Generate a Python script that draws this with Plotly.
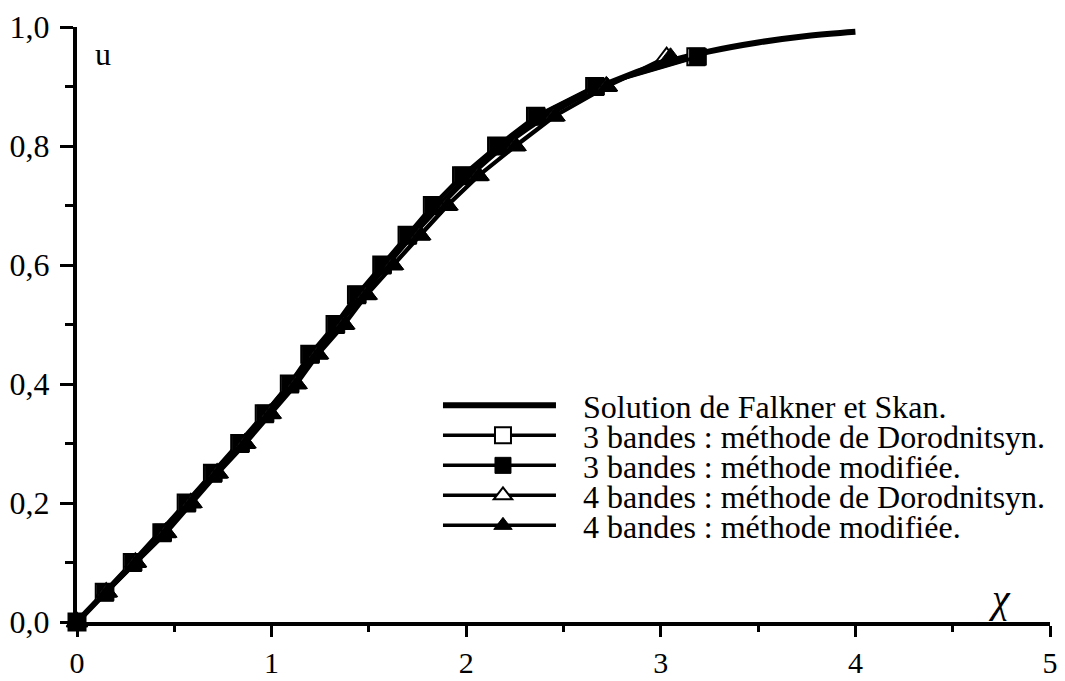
import plotly.graph_objects as go

# ---- data ----
sol_x = [0.0, 0.25, 0.5, 0.75, 1.0, 1.25, 1.5, 1.75, 2.0, 2.25, 2.5, 2.75, 3.0, 3.25, 3.5, 3.75, 4.0]
sol_u = [0.0, 0.086, 0.176, 0.268, 0.362, 0.463, 0.565, 0.660, 0.745, 0.815, 0.868, 0.908, 0.938, 0.959, 0.974, 0.985, 0.992]

u_nodes = [0.00, 0.05, 0.10, 0.15, 0.20, 0.25, 0.30, 0.35, 0.40, 0.45,
           0.50, 0.55, 0.60, 0.65, 0.70, 0.75, 0.80, 0.85, 0.90, 0.95]

x_3dor = [0.000, 0.140, 0.284, 0.436, 0.561, 0.696, 0.836, 0.962, 1.091, 1.196,
          1.326, 1.436, 1.566, 1.696, 1.826, 1.976, 2.156, 2.356, 2.660, 3.180]
x_3mod = [0.000, 0.146, 0.290, 0.442, 0.567, 0.702, 0.842, 0.968, 1.097, 1.202,
          1.332, 1.442, 1.572, 1.702, 1.832, 1.982, 2.162, 2.362, 2.666, 3.190]
x_4dor = [0.000, 0.150, 0.300, 0.455, 0.585, 0.720, 0.862, 0.992, 1.125, 1.235,
          1.370, 1.485, 1.620, 1.760, 1.900, 2.060, 2.250, 2.450, 2.720, 3.030]
x_4mod = [0.000, 0.156, 0.306, 0.461, 0.591, 0.726, 0.868, 0.998, 1.131, 1.241,
          1.376, 1.491, 1.626, 1.766, 1.906, 2.066, 2.256, 2.456, 2.726, 3.050]

names = ["Solution de Falkner et Skan.",
         "3 bandes : méthode de Dorodnitsyn.",
         "3 bandes : méthode modifiée.",
         "4 bandes : méthode de Dorodnitsyn.",
         "4 bandes : méthode modifiée."]

x_ticks = [0, 1, 2, 3, 4, 5]
y_ticks = [0.0, 0.2, 0.4, 0.6, 0.8, 1.0]

FONT = "Liberation Serif, Times New Roman, Times, DejaVu Serif, serif"

fig = go.Figure()
fig.add_trace(go.Scatter(x=sol_x, y=sol_u, mode="lines", name=names[0],
                         line=dict(color="black", width=6, shape="spline"),
                         cliponaxis=False))
fig.add_trace(go.Scatter(x=x_3dor, y=u_nodes, mode="lines+markers", name=names[1],
                         line=dict(color="black", width=3.5),
                         marker=dict(symbol="square", size=17, color="white",
                                     line=dict(color="black", width=2)),
                         cliponaxis=False))
fig.add_trace(go.Scatter(x=x_3mod, y=u_nodes, mode="lines+markers", name=names[2],
                         line=dict(color="black", width=3.5),
                         marker=dict(symbol="square", size=17, color="black",
                                     line=dict(color="black", width=1)),
                         cliponaxis=False))
fig.add_trace(go.Scatter(x=x_4dor, y=u_nodes, mode="lines+markers", name=names[3],
                         line=dict(color="black", width=3.5),
                         marker=dict(symbol="triangle-up", size=18, color="white",
                                     line=dict(color="black", width=2)),
                         cliponaxis=False))
fig.add_trace(go.Scatter(x=x_4mod, y=u_nodes, mode="lines+markers", name=names[4],
                         line=dict(color="black", width=3.5),
                         marker=dict(symbol="triangle-up", size=18, color="black",
                                     line=dict(color="black", width=1)),
                         cliponaxis=False))

fig.update_layout(
    width=1065, height=681,
    margin=dict(l=77, r=15, t=27, b=59, autoexpand=False),
    paper_bgcolor="white", plot_bgcolor="white",
    separators=", ",
    font=dict(family=FONT, size=30, color="black"),
    showlegend=True,
    legend=dict(x=0.371, y=0.41, xanchor="left", yanchor="top",
                bgcolor="rgba(0,0,0,0)", borderwidth=0,
                itemwidth=135, font=dict(family=FONT, size=32, color="black"),
                traceorder="normal"),
    xaxis=dict(range=[0, 5], tickvals=x_ticks, tickformat="d", automargin=False,
               showgrid=False, zeroline=False,
               showline=True, linecolor="black", linewidth=4,
               ticks="outside", ticklen=11, tickwidth=3, tickcolor="black",
               ticklabelstandoff=0,
               minor=dict(dtick=0.5, ticks="outside", ticklen=6, tickwidth=3, tickcolor="black"),
               tickfont=dict(family=FONT, size=30, color="black")),
    yaxis=dict(range=[0, 1], tickvals=y_ticks, tickformat=".1f", automargin=False,
               showgrid=False, zeroline=False,
               showline=True, linecolor="black", linewidth=4,
               ticks="outside", ticklen=13, tickwidth=3, tickcolor="black",
               ticklabelstandoff=4,
               minor=dict(dtick=0.1, ticks="outside", ticklen=8, tickwidth=3, tickcolor="black"),
               tickfont=dict(family=FONT, size=32, color="black")),
    annotations=[
        dict(x=0.134, y=0.955, xref="x", yref="y", text="u", showarrow=False,
             font=dict(family=FONT, size=32, color="black")),
        dict(x=4.74, y=0.04, xref="x", yref="y", text="<i>χ</i>", showarrow=False,
             font=dict(family=FONT, size=40, color="black")),
    ],
)

post = """
var gd = document.getElementById('{plot_id}');
function fixLegend(){
  var items = gd.querySelectorAll('g.legend g.traces');
  if(!items.length) return;
  var t = items[0].getAttribute('transform') || 'translate(0,0)';
  var m = /translate\\(\\s*([-\\d.e]+)[\\s,]+([-\\d.e]+)\\s*\\)/.exec(t);
  var x0 = m ? parseFloat(m[1]) : 0, y0 = m ? parseFloat(m[2]) : 0;
  items.forEach(function(g, i){
    g.setAttribute('transform', 'translate(' + x0 + ',' + (y0 + i*30) + ')');
    g.querySelectorAll('g.legendlines path').forEach(function(p){ p.setAttribute('d', 'M5,0h113'); });
    g.querySelectorAll('g.legendpoints path').forEach(function(p){ p.setAttribute('transform', 'translate(65,0)'); });
  });
}
fixLegend();
gd.on('plotly_afterplot', fixLegend);
"""

fig.write_html("out.html", post_script=post)
